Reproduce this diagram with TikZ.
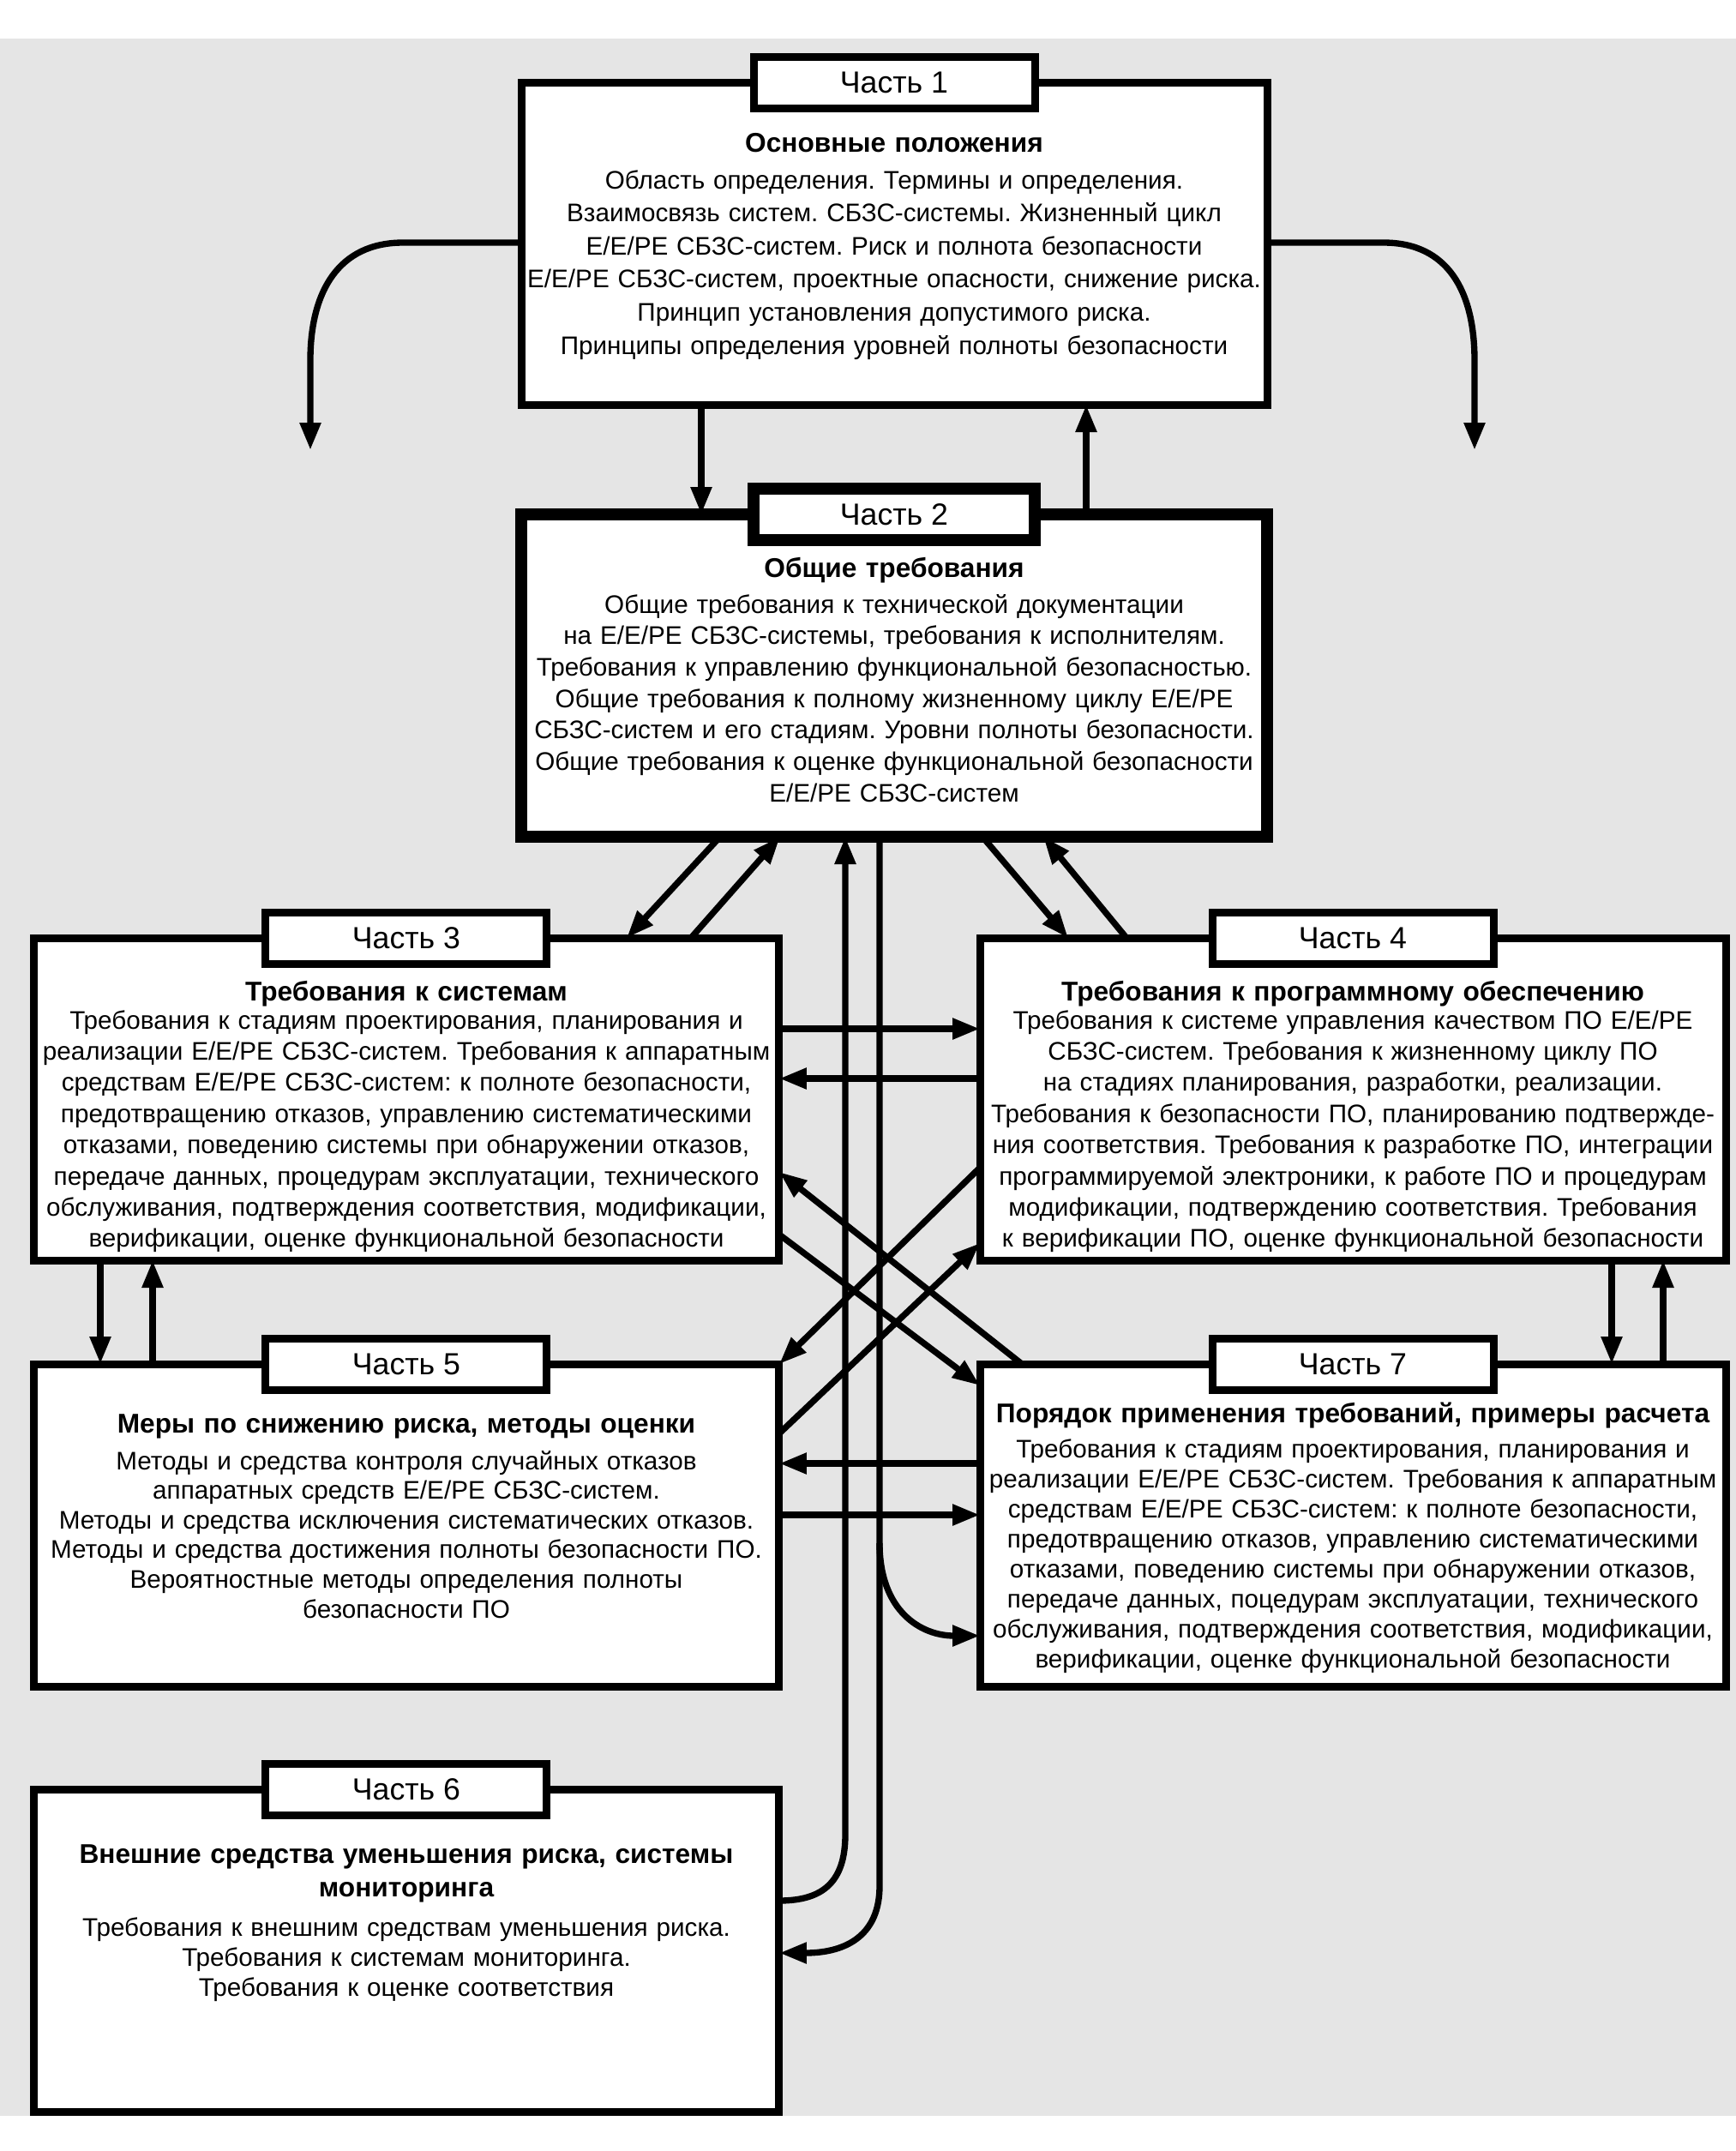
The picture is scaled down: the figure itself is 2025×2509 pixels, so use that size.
\documentclass[tikz,border=0pt]{standalone}
\usepackage{fontspec}
\setmainfont{Liberation Sans}
\usetikzlibrary{arrows.meta,calc}
\begin{document}
\frenchspacing
\begin{tikzpicture}[x=0.3pt,y=-0.3pt,
  box/.style={draw,line width=2.7pt,fill=white,inner sep=0pt,outer sep=0pt,anchor=north west,minimum width=261pt,minimum height=112.8pt},
  thickbox/.style={box,line width=4.2pt},
  tab/.style={draw,line width=2.7pt,fill=white,inner sep=0pt,outer sep=0pt,minimum width=98.4pt,minimum height=18pt,font=\fontsize{10.7pt}{12pt}\selectfont},
  thicktab/.style={tab,line width=4pt},
  ttl/.style={anchor=base,inner sep=0pt,text width=270pt,align=center,font=\fontsize{9.5pt}{11.7pt}\selectfont\bfseries},
  body/.style={anchor=base,inner sep=0pt,text width=270pt,align=center},
  arr/.style={line width=2.2pt,-{Triangle[length=9.6pt,width=7pt]}},
  ln/.style={line width=2.2pt}
]
\useasboundingbox (0,0) rectangle (2025,2509);
\fill[black!10] (0,45) rectangle (2025,2468);

% boxes
\node[box] (p1) at (608,96) {};
\node[thickbox] (p2) at (608,600) {};
\node[box] (p3) at (39,1094) {};
\node[box] (p4) at (1143,1094) {};
\node[box] (p5) at (39,1591) {};
\node[box] (p7) at (1143,1591) {};
\node[box] (p6) at (39,2087) {};

% tabs
\node[tab] (t1) at (p1.north) {Часть 1};
\node[thicktab] (t2) at (p2.north) {Часть 2};
\node[tab] (t3) at (p3.north) {Часть 3};
\node[tab] (t4) at (p4.north) {Часть 4};
\node[tab] (t5) at (p5.north) {Часть 5};
\node[tab] (t7) at (p7.north) {Часть 7};
\node[tab] (t6) at (p6.north) {Часть 6};

% texts
\node[ttl] (h1) at (1043,177) {Основные положения};
\node[body,font=\fontsize{8.9pt}{11.58pt}\selectfont] (b1) at (1043,220) {Область определения. Термины и определения.\\
Взаимосвязь систем. СБЗС-системы. Жизненный цикл\\
Е/Е/РЕ СБЗС-систем. Риск и полнота безопасности\\
Е/Е/РЕ СБЗС-систем, проектные опасности, снижение риска.\\
Принцип установления допустимого риска.\\
Принципы определения уровней полноты безопасности};

\node[ttl] (h2) at (1043,673) {Общие требования};
\node[body,font=\fontsize{8.9pt}{11pt}\selectfont] (b2) at (1043,715) {Общие требования к технической документации\\
на Е/Е/РЕ СБЗС-системы, требования к исполнителям.\\
Требования к управлению функциональной безопасностью.\\
Общие требования к полному жизненному циклу Е/Е/РЕ\\
СБЗС-систем и его стадиям. Уровни полноты безопасности.\\
Общие требования к оценке функциональной безопасности\\
Е/Е/РЕ СБЗС-систем};

\node[ttl] (h3) at (474,1167) {Требования к системам};
\node[body,font=\fontsize{8.9pt}{10.92pt}\selectfont] (b3) at (474,1200) {Требования к стадиям проектирования, планирования и\\
реализации Е/Е/РЕ СБЗС-систем. Требования к аппаратным\\
средствам Е/Е/РЕ СБЗС-систем: к полноте безопасности,\\
предотвращению отказов, управлению систематическими\\
отказами, поведению системы при обнаружении отказов,\\
передаче данных, процедурам эксплуатации, технического\\
обслуживания, подтверждения соответствия, модификации,\\
верификации, оценке функциональной безопасности};

\node[ttl] (h4) at (1578,1167) {Требования к программному обеспечению};
\node[body,font=\fontsize{8.9pt}{10.92pt}\selectfont] (b4) at (1578,1200) {Требования к системе управления качеством ПО Е/Е/РЕ\\
СБЗС-систем. Требования к жизненному циклу ПО\\
на стадиях планирования, разработки, реализации.\\
Требования к безопасности ПО, планированию подтвержде-\\
ния соответствия. Требования к разработке ПО, интеграции\\
программируемой электроники, к работе ПО и процедурам\\
модификации, подтверждению соответствия. Требования\\
к верификации ПО, оценке функциональной безопасности};

\node[ttl] (h5) at (474,1671) {Меры по снижению риска, методы оценки};
\node[body,font=\fontsize{8.9pt}{10.38pt}\selectfont] (b5) at (474,1714) {Методы и средства контроля случайных отказов\\
аппаратных средств Е/Е/РЕ СБЗС-систем.\\
Методы и средства исключения систематических отказов.\\
Методы и средства достижения полноты безопасности ПО.\\
Вероятностные методы определения полноты\\
безопасности ПО};

\node[ttl] (h7) at (1578,1659) {Порядок применения требований, примеры расчета};
\node[body,font=\fontsize{8.9pt}{10.5pt}\selectfont] (b7) at (1578,1700) {Требования к стадиям проектирования, планирования и\\
реализации Е/Е/РЕ СБЗС-систем. Требования к аппаратным\\
средствам Е/Е/РЕ СБЗС-систем: к полноте безопасности,\\
предотвращению отказов, управлению систематическими\\
отказами, поведению системы при обнаружении отказов,\\
передаче данных, поцедурам эксплуатации, технического\\
обслуживания, подтверждения соответствия, модификации,\\
верификации, оценке функциональной безопасности};

\node[ttl] (h6) at (474,2173) {Внешние средства уменьшения риска, системы\\мониторинга};
\node[body,font=\fontsize{8.9pt}{10.5pt}\selectfont] (b6) at (474,2258) {Требования к внешним средствам уменьшения риска.\\
Требования к системам мониторинга.\\
Требования к оценке соответствия};

% connectors
\coordinate (l1) at (362,525);
\coordinate (r1) at (1720,525);
\draw[arr] ($(p1.north west)+(0,187)$) -- (470,283) .. controls (395,283) and (362,340) .. (362,420) -- (l1);
\draw[arr] ($(p1.north east)+(0,187)$) -- (1614,283) .. controls (1689,283) and (1720,340) .. (1720,420) -- (r1);
\draw[arr] ($(p1.south west)+(210,0)$) -- ($(p2.north west)+(210,0)$);
\draw[arr] ($(p2.north west)+(659,0)$) -- ($(p1.south west)+(659,0)$);

\draw[arr] ($(p2.south west)+(232,0)$) -- ($(p3.north west)+(692,0)$);
\draw[arr] ($(p3.north west)+(767,0)$) -- ($(p2.south west)+(302,0)$);
\draw[arr] ($(p2.south west)+(538,0)$) -- ($(p4.north west)+(103,0)$);
\draw[arr] ($(p4.north west)+(171,0)$) -- ($(p2.south west)+(609,0)$);

\draw[arr] ($(p6.north east)+(0,130)$) .. controls (960,2217) and (986,2195) .. (986,2140) -- ($(p2.south west)+(378,0)$);
\draw[arr] ($(p2.south west)+(418,0)$) -- (1026,2200) .. controls (1026,2255) and (990,2278) .. ($(p6.north east)+(0,191)$);
\coordinate (br) at (1026,1800);
\draw[arr] (br) .. controls (1026,1880) and (1075,1908) .. ($(p7.north west)+(0,317)$);

\draw[arr] ($(p3.north east)+(0,106)$) -- ($(p4.north west)+(0,106)$);
\draw[arr] ($(p4.north west)+(0,164)$) -- ($(p3.north east)+(0,164)$);

\draw[arr] ($(p7.north west)+(49,0)$) -- ($(p3.north east)+(0,273)$);
\draw[arr] ($(p3.north east)+(0,346)$) -- ($(p7.north west)+(0,25)$);
\draw[arr] ($(p4.north west)+(0,268)$) -- (p5.north east);
\draw[arr] ($(p5.north east)+(0,81)$) -- ($(p4.north west)+(0,356)$);

\draw[arr] ($(p3.south west)+(78,0)$) -- ($(p5.north west)+(78,0)$);
\draw[arr] ($(p5.north west)+(139,0)$) -- ($(p3.south west)+(139,0)$);
\draw[arr] ($(p4.south west)+(737,0)$) -- ($(p7.north west)+(737,0)$);
\draw[arr] ($(p7.north west)+(797,0)$) -- ($(p4.south west)+(797,0)$);

\draw[arr] ($(p7.north west)+(0,116)$) -- ($(p5.north east)+(0,116)$);
\draw[arr] ($(p5.north east)+(0,176)$) -- ($(p7.north west)+(0,176)$);
\end{tikzpicture}
\end{document}
